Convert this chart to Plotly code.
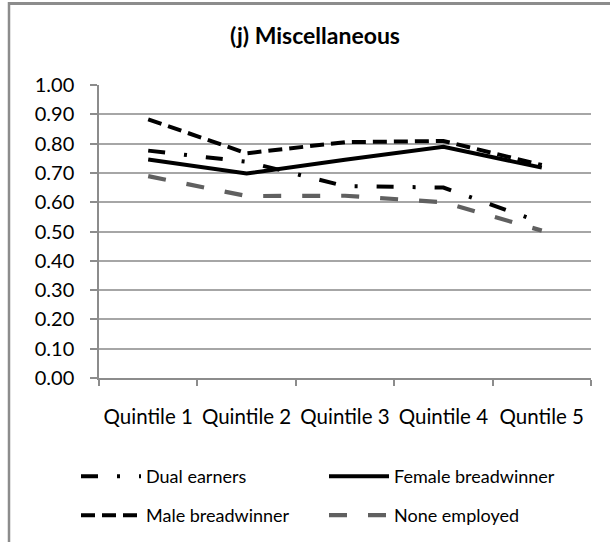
import plotly.graph_objects as go

categories = ["Quintile 1", "Quintile 2", "Quintile 3", "Quintile 4", "Quntile 5"]
dual_earners = [0.776, 0.738, 0.655, 0.650, 0.530]
female_breadwinner = [0.746, 0.698, 0.745, 0.789, 0.718]
male_breadwinner = [0.883, 0.767, 0.805, 0.809, 0.727]
none_employed = [0.689, 0.621, 0.622, 0.600, 0.503]
y_ticks = [i / 10 for i in range(11)]
y_tick_labels = [f"{v:.2f}" for v in y_ticks]

W, H = 610, 542
L, R, T, B = 99, 19, 85, 164
pw, ph = W - L - R, H - T - B

FONT = "Lato"

fig = go.Figure()
fig.add_trace(go.Scatter(x=categories, y=dual_earners, mode="lines", name="Dual earners",
                         legend="legend",
                         line=dict(color="#000000", width=4, dash="17px,19px,3px,19px")))
fig.add_trace(go.Scatter(x=categories, y=female_breadwinner, mode="lines", name="Female breadwinner",
                         legend="legend2",
                         line=dict(color="#000000", width=4)))
fig.add_trace(go.Scatter(x=categories, y=male_breadwinner, mode="lines", name="Male breadwinner",
                         legend="legend3",
                         line=dict(color="#000000", width=4, dash="14px,7px")))
fig.add_trace(go.Scatter(x=categories, y=none_employed, mode="lines", name="None employed",
                         legend="legend4",
                         line=dict(color="#606060", width=4.2, dash="18px,21px")))

def px_x(px):
    return (px - L) / pw

def px_y(py):
    return (H - B - py) / ph

# outer frame (left and top edges)
fig.add_shape(type="line", xref="paper", yref="paper", x0=px_x(8), x1=px_x(614),
              y0=px_y(3.5), y1=px_y(3.5), line=dict(color="#8c8c8c", width=3))
fig.add_shape(type="line", xref="paper", yref="paper", x0=px_x(9), x1=px_x(9),
              y0=px_y(2), y1=px_y(546), line=dict(color="#8c8c8c", width=2.5))

def leg(x_px, top_px):
    return dict(orientation="h", xref="container", yref="container",
                x=x_px / W, xanchor="left", y=1 - top_px / H, yanchor="top",
                font=dict(family=FONT, size=18, color="#000000"),
                itemwidth=60, bgcolor="rgba(0,0,0,0)")

fig.update_layout(
    width=W, height=H,
    margin=dict(l=L, r=R, t=T, b=B, autoexpand=False),
    paper_bgcolor="white", plot_bgcolor="white",
    font=dict(family=FONT, size=18, color="#000000"),
    title=dict(text="<b>(j) Miscellaneous</b>", x=315 / W, xanchor="center",
               y=1 - 36 / H, yanchor="middle", yref="container",
               font=dict(family=FONT, size=23, color="#000000")),
    showlegend=True,
    legend=leg(76, 458),
    legend2=leg(324, 458),
    legend3=leg(76, 497),
    legend4=leg(324, 497),
)
fig.update_xaxes(type="category", range=[-0.5, 4.5], showgrid=False,
                 showline=True, linecolor="#8c8c8c", linewidth=1.5,
                 ticks="outside", tickson="boundaries", ticklen=6, tickcolor="#8c8c8c",
                 tickwidth=1.5, ticklabelstandoff=20, tickangle=0, automargin=False,
                 tickfont=dict(family=FONT, size=20.5))
fig.update_yaxes(range=[0, 1.0], tickvals=y_ticks, ticktext=y_tick_labels,
                 showgrid=True, gridcolor="#a6a6a6", gridwidth=1.5,
                 showline=True, linecolor="#8c8c8c", linewidth=1.5,
                 ticks="outside", ticklen=7, tickcolor="#8c8c8c", tickwidth=1.5,
                 ticklabelstandoff=12, zeroline=False, automargin=False,
                 tickfont=dict(family=FONT, size=20))

fig.write_html("out.html", config={"displayModeBar": False},
               post_script="document.body.style.margin='0';")
